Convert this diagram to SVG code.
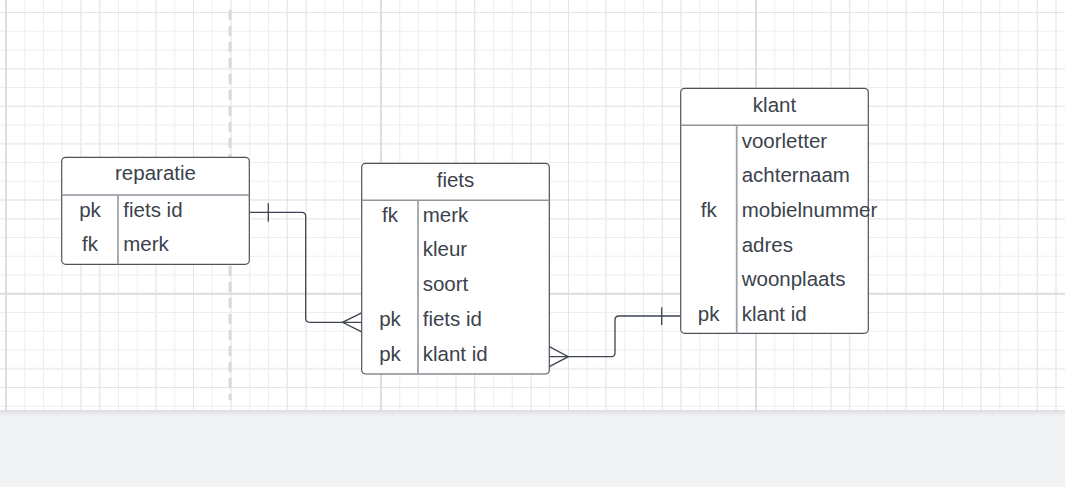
<svg xmlns="http://www.w3.org/2000/svg" width="1065" height="487" viewBox="0 0 1065 487">
  <defs>
    <pattern id="gMinor" patternUnits="userSpaceOnUse" x="5.5" y="12" width="18.75" height="18.75">
      <rect x="0" y="0" width="1" height="18.75" fill="#ededed"/>
      <rect x="0" y="0" width="18.75" height="1" fill="#ededed"/>
    </pattern>
    <pattern id="gFour" patternUnits="userSpaceOnUse" x="5" y="67.75" width="75" height="75">
      <rect x="0" y="0" width="2" height="75" fill="#efefef"/>
      <rect x="0" y="0" width="75" height="2" fill="#efefef"/>
    </pattern>
    <pattern id="gFive" patternUnits="userSpaceOnUse" x="5.5" y="12" width="93.75" height="93.75">
      <rect x="0" y="0" width="1" height="93.75" fill="#e4e4e4"/>
      <rect x="0" y="0" width="93.75" height="1" fill="#e4e4e4"/>
    </pattern>
    <pattern id="gTwenty" patternUnits="userSpaceOnUse" x="5" y="292.75" width="375" height="375">
      <rect x="0" y="0" width="2" height="375" fill="#dedede"/>
      <rect x="0" y="0" width="375" height="2" fill="#dedede"/>
    </pattern>
    <linearGradient id="shadow" x1="0" y1="0" x2="0" y2="1">
      <stop offset="0" stop-color="#dcdde0"/>
      <stop offset="1" stop-color="#f1f2f4"/>
    </linearGradient>
  </defs>
  <style>
    .box { fill: #ffffff; stroke: #4d545d; stroke-width: 1.2; }
    .div { stroke: #9ea3a9; stroke-width: 1.8; fill: none; }
    .hdiv { stroke: #8f959c; stroke-width: 1.4; fill: none; }
    .t { font-family: "Liberation Sans", Arial, sans-serif; font-size: 20.5px; fill: #3b424c; }
    .c { text-anchor: middle; }
    .conn { stroke: #3d4450; stroke-width: 1.3; fill: none; }
  </style>

  <!-- canvas -->
  <rect x="0" y="0" width="1065" height="410" fill="#ffffff"/>
  <rect x="0" y="0" width="1065" height="410" fill="url(#gMinor)"/>
  <rect x="0" y="0" width="1065" height="410" fill="url(#gFour)"/>
  <rect x="0" y="0" width="1065" height="410" fill="url(#gFive)"/>
  <rect x="0" y="0" width="1065" height="410" fill="url(#gTwenty)"/>
  <rect x="0" y="410" width="1065" height="77" fill="#f1f2f4"/>
  <rect x="0" y="410" width="1065" height="6" fill="url(#shadow)"/>
  <line x1="230" y1="10" x2="230" y2="400" stroke="#dadada" stroke-width="3" stroke-dasharray="10 6"/>

  <g id="connectors">
    <path class="conn" d="M249.3,212.3 H301.7 Q305.7,212.3 305.7,216.3 V318.3 Q305.7,322.3 309.7,322.3 H361.7"/>
    <path class="conn" d="M268.3,203.3 V221.7"/>
    <path class="conn" d="M361.7,312.8 L342.5,322.3 L361.7,331.8"/>
    <path class="conn" d="M549.3,356.7 H611 Q615,356.7 615,352.7 V320 Q615,316 619,316 H680.7"/>
    <path class="conn" d="M661.7,307.3 V325"/>
    <path class="conn" d="M549.3,346.7 L568.3,356.7 L549.3,366.7"/>
  </g>

  <g id="reparatie">
    <rect class="box" x="61.7" y="157.3" width="187.6" height="107" rx="4"/>
    <line class="hdiv" x1="61.7" y1="195" x2="249.3" y2="195"/>
    <line class="div" x1="118" y1="195" x2="118" y2="264.3"/>
    <text class="t c" x="155.5" y="180">reparatie</text>
    <text class="t c" x="90" y="216.7">pk</text>
    <text class="t" x="123.3" y="216.7">fiets id</text>
    <text class="t c" x="90" y="251.3">fk</text>
    <text class="t" x="123.3" y="251.3">merk</text>
  </g>

  <g id="fiets">
    <rect class="box" x="361.7" y="163.3" width="187.6" height="210.7" rx="4"/>
    <line class="hdiv" x1="361.7" y1="200.3" x2="549.3" y2="200.3"/>
    <line class="div" x1="418" y1="200.3" x2="418" y2="374"/>
    <text class="t c" x="455.5" y="186.7">fiets</text>
    <text class="t c" x="390" y="221.7">fk</text>
    <text class="t" x="422.7" y="221.7">merk</text>
    <text class="t" x="422.7" y="256.4">kleur</text>
    <text class="t" x="422.7" y="291.2">soort</text>
    <text class="t c" x="390" y="325.9">pk</text>
    <text class="t" x="422.7" y="325.9">fiets id</text>
    <text class="t c" x="390" y="360.7">pk</text>
    <text class="t" x="422.7" y="360.7">klant id</text>
  </g>

  <g id="klant">
    <rect class="box" x="680.7" y="88.3" width="187.6" height="245" rx="4"/>
    <line class="hdiv" x1="680.7" y1="125.3" x2="868.3" y2="125.3"/>
    <line class="div" x1="736.7" y1="125.3" x2="736.7" y2="333.3"/>
    <text class="t c" x="774.5" y="111.7">klant</text>
    <text class="t" x="741.7" y="147.7">voorletter</text>
    <text class="t" x="741.7" y="182.3">achternaam</text>
    <text class="t c" x="708.7" y="216.9">fk</text>
    <text class="t" x="741.7" y="216.9">mobielnummer</text>
    <text class="t" x="741.7" y="251.5">adres</text>
    <text class="t" x="741.7" y="286.1">woonplaats</text>
    <text class="t c" x="708.7" y="320.7">pk</text>
    <text class="t" x="741.7" y="320.7">klant id</text>
  </g>
</svg>
